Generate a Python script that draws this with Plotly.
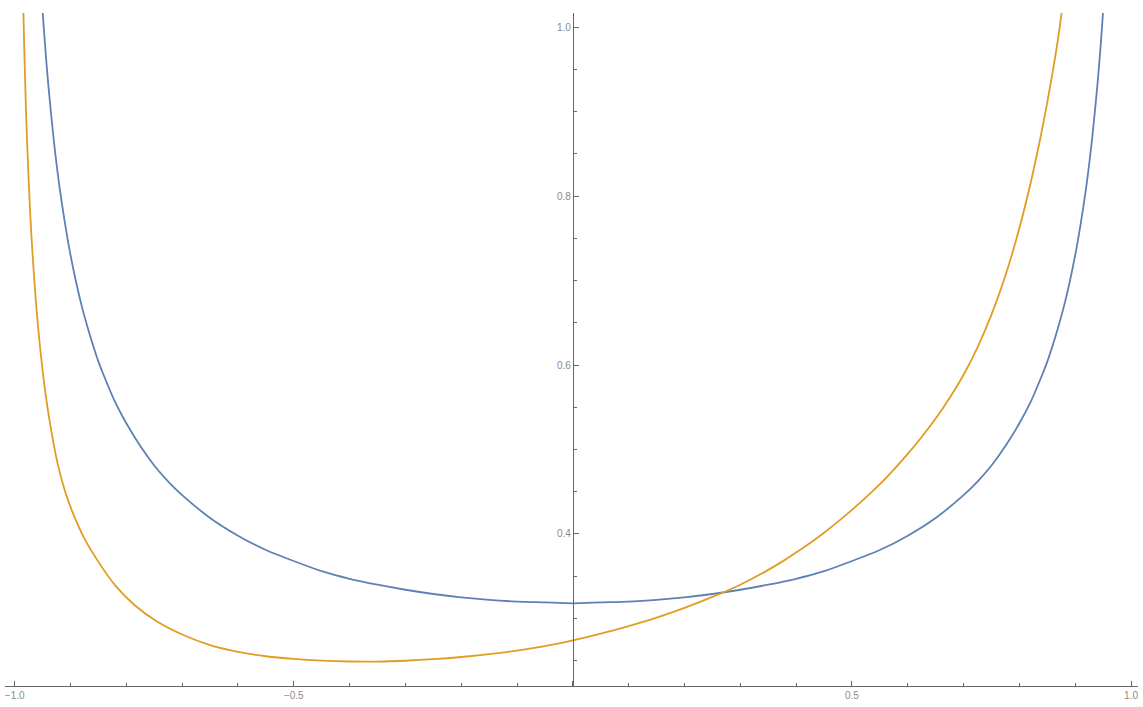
import plotly.graph_objects as go

# values
blue_x = [-0.97, -0.965, -0.96, -0.955, -0.95, -0.945, -0.94, -0.93, -0.92, -0.91, -0.90,
          -0.89, -0.88, -0.87, -0.86, -0.85, -0.84, -0.82, -0.80, -0.775, -0.75, -0.725,
          -0.70, -0.65, -0.60, -0.55, -0.50, -0.45, -0.40, -0.35, -0.30, -0.25, -0.20,
          -0.15, -0.10, -0.05, 0.0, 0.05, 0.10, 0.15, 0.20, 0.25, 0.30, 0.35, 0.40, 0.45,
          0.50, 0.55, 0.60, 0.65, 0.70, 0.725, 0.75, 0.775, 0.80, 0.82, 0.84, 0.85, 0.86,
          0.87, 0.88, 0.89, 0.90, 0.91, 0.92, 0.93, 0.94, 0.945, 0.95, 0.955, 0.96, 0.965, 0.97]
blue_y = [1.309, 1.214, 1.137, 1.073, 1.019, 0.973, 0.933, 0.866, 0.812, 0.768, 0.730,
          0.698, 0.670, 0.646, 0.624, 0.604, 0.587, 0.556, 0.531, 0.504, 0.481, 0.462,
          0.446, 0.419, 0.398, 0.381, 0.368, 0.356, 0.347, 0.340, 0.334, 0.329, 0.325,
          0.322, 0.320, 0.319, 0.318, 0.319, 0.320, 0.322, 0.325, 0.329, 0.334, 0.340, 0.347, 0.356,
          0.368, 0.381, 0.398, 0.419, 0.446, 0.462, 0.481, 0.504, 0.531, 0.556, 0.587, 0.604, 0.624,
          0.646, 0.670, 0.698, 0.730, 0.768, 0.812, 0.866, 0.933, 0.973, 1.019, 1.073, 1.137, 1.214, 1.309]

orange_x = [-0.99, -0.985, -0.98, -0.975, -0.97, -0.9625, -0.955, -0.945, -0.935, -0.9225,
            -0.91, -0.895, -0.875, -0.85, -0.82, -0.785, -0.745, -0.70, -0.65, -0.60,
            -0.55, -0.50, -0.45, -0.40, -0.35, -0.30, -0.25, -0.20, -0.15, -0.10, -0.05,
            0.0, 0.05, 0.10, 0.15, 0.20, 0.25, 0.30, 0.35, 0.375, 0.40, 0.425, 0.45, 0.475,
            0.50, 0.525, 0.55, 0.575, 0.60, 0.625, 0.65, 0.675, 0.70, 0.725, 0.75, 0.775,
            0.80, 0.825, 0.85, 0.875, 0.90]
orange_y = [1.246, 1.034, 0.905, 0.818, 0.752, 0.679, 0.624, 0.567, 0.524, 0.4815,
            0.451, 0.4235, 0.3945, 0.367, 0.3392, 0.3157, 0.2964, 0.281, 0.2685, 0.2605,
            0.2553, 0.2522, 0.2502, 0.2491, 0.2490, 0.2500, 0.2518, 0.2544, 0.2578, 0.2620, 0.2672,
            0.2740, 0.2820, 0.2910, 0.3010, 0.3125, 0.3255, 0.3400, 0.3575, 0.3673, 0.3780, 0.3893, 0.4015, 0.4146,
            0.4285, 0.4433, 0.4590, 0.4763, 0.4948, 0.5148, 0.5366, 0.5609, 0.5884, 0.6209, 0.6596, 0.7059,
            0.7621, 0.8296, 0.9109, 1.0134, 1.2100]

x_major = [-1.0, -0.5, 0.0, 0.5, 1.0]
x_labels = ["\u22121.0", "\u22120.5", "", "0.5", "1.0"]
y_major = [0.4, 0.6, 0.8, 1.0]
y_labels = ["0.4", "0.6", "0.8", "1.0"]

x_range = [-1.0174, 1.0125]
y_range = [0.2201, 1.0166]

fig = go.Figure()
fig.add_trace(go.Scatter(x=blue_x, y=blue_y, mode='lines',
                         line=dict(color='#5E81B5', width=1.8, shape='spline', smoothing=0.8)))
fig.add_trace(go.Scatter(x=orange_x, y=orange_y, mode='lines',
                         line=dict(color='#E19C24', width=1.8, shape='spline', smoothing=0.8)))

tick_font = dict(family='Liberation Sans, Arial, sans-serif', size=10, color='#8a8a8a')

fig.update_layout(
    width=1143, height=707,
    margin=dict(l=5, r=5, t=13, b=21),
    plot_bgcolor='white', paper_bgcolor='white',
    showlegend=False,
    xaxis=dict(
        range=x_range, showgrid=False, zeroline=False, automargin=False,
        showline=True, linecolor='#666666', linewidth=1,
        tickmode='array', tickvals=x_major, ticktext=x_labels,
        ticks='inside', ticklen=5, tickcolor='#666666', tickfont=tick_font,
        minor=dict(ticks='inside', dtick=0.1, tick0=0, ticklen=3, tickcolor='#666666'),
    ),
    yaxis=dict(
        range=y_range, showgrid=False, zeroline=False, automargin=False,
        anchor='free', position=(0 - x_range[0]) / (x_range[1] - x_range[0]),
        showline=True, linecolor='#666666', linewidth=1,
        tickmode='array', tickvals=y_major, ticktext=y_labels,
        ticks='inside', ticklen=5, tickcolor='#666666', tickfont=tick_font,
        minor=dict(ticks='inside', dtick=0.05, tick0=0, ticklen=3, tickcolor='#666666'),
    ),
)

# drop the page's default 8px body margin so the figure sits at the window corner
fig.write_html("out.html", config={'displayModeBar': False},
               post_script="document.body.style.margin='0';")
